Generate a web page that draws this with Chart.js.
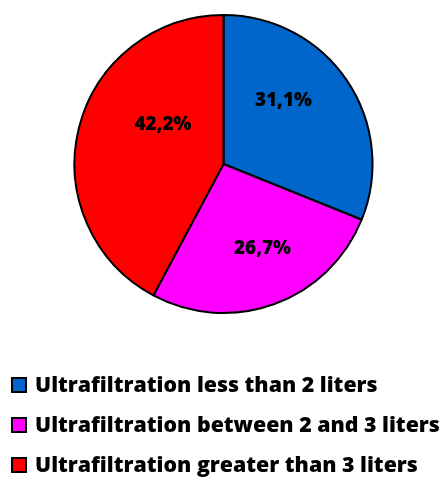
<!DOCTYPE html>
<html>
<head>
<meta charset="utf-8">
<script src="https://cdn.jsdelivr.net/npm/chart.js@4.4.0/dist/chart.umd.min.js"></script>
<style>
html,body{margin:0;padding:0;background:#fff;}
#wrap{width:443px;height:477px;position:relative;}
</style>
</head>
<body>
<div id="wrap"><canvas id="c" width="443" height="477"></canvas></div>
<script>
const categories = [
  "Ultrafiltration less than 2 liters",
  "Ultrafiltration between 2 and 3 liters",
  "Ultrafiltration greater than 3 liters"
];
const percentValues = [31.1, 26.7, 42.2];
const valueLabels = ["31,1%", "26,7%", "42,2%"];

const sliceColors = ["#0066CC", "#FF00FF", "#FF0000"];
// label placement: angle offset (degrees, relative to slice mid-angle) and radius fraction
const labelPlacement = [
  {dAngle: -13, rFrac: 0.59},
  {dAngle: -5, rFrac: 0.62},
  {dAngle: 20, rFrac: 0.49}
];
const FONT = "'Open Sans', sans-serif";
const WEIGHT = "800";

function fitSize(ctx, text, target, base) {
  ctx.font = WEIGHT + " " + base + "px " + FONT;
  const w = ctx.measureText(text).width;
  return base * target / w;
}

const sliceLabelPlugin = {
  id: 'sliceLabels',
  afterDatasetsDraw(chart) {
    const ctx = chart.ctx;
    const meta = chart.getDatasetMeta(0);
    ctx.save();
    const fs = fitSize(ctx, valueLabels[0], 57, 18);
    ctx.font = WEIGHT + " " + fs.toFixed(2) + "px " + FONT;
    ctx.fillStyle = "#000";
    ctx.textAlign = "center";
    ctx.textBaseline = "middle";
    meta.data.forEach((arc, i) => {
      const p = arc.getProps(['x','y','startAngle','endAngle','outerRadius'], true);
      const mid = (p.startAngle + p.endAngle) / 2 + labelPlacement[i].dAngle * Math.PI / 180;
      const r = p.outerRadius * labelPlacement[i].rFrac;
      ctx.fillText(valueLabels[i], p.x + Math.cos(mid) * r, p.y + Math.sin(mid) * r + 1);
    });
    ctx.restore();
  }
};

const legendPlugin = {
  id: 'customLegend',
  afterDraw(chart) {
    const ctx = chart.ctx;
    const ds = chart.data.datasets[0];
    ctx.save();
    const fs = fitSize(ctx, chart.data.labels[1], 405, 20);
    ctx.font = WEIGHT + " " + fs.toFixed(2) + "px " + FONT;
    ctx.textAlign = "left";
    ctx.textBaseline = "middle";
    chart.data.labels.forEach((lab, i) => {
      const cy = 385 + i * 40;
      ctx.fillStyle = ds.backgroundColor[i];
      ctx.fillRect(12, cy - 7, 14, 14);
      ctx.lineWidth = 2;
      ctx.strokeStyle = "#000";
      ctx.strokeRect(12, cy - 7, 14, 14);
      ctx.fillStyle = "#000";
      ctx.fillText(lab, 35, cy + 1);
    });
    ctx.restore();
  }
};

new Chart(document.getElementById('c'), {
  type: 'pie',
  data: {
    labels: categories,
    datasets: [{
      data: percentValues,
      backgroundColor: sliceColors,
      borderColor: "#000",
      borderWidth: 2,
      borderAlign: 'center'
    }]
  },
  options: {
    responsive: false,
    animation: false,
    events: [],
    radius: 149,
    layout: { padding: { left: 4, right: 0, top: 14, bottom: 163 } },
    plugins: {
      legend: { display: false },
      tooltip: { enabled: false }
    }
  },
  plugins: [sliceLabelPlugin, legendPlugin]
});
</script>
</body>
</html>
